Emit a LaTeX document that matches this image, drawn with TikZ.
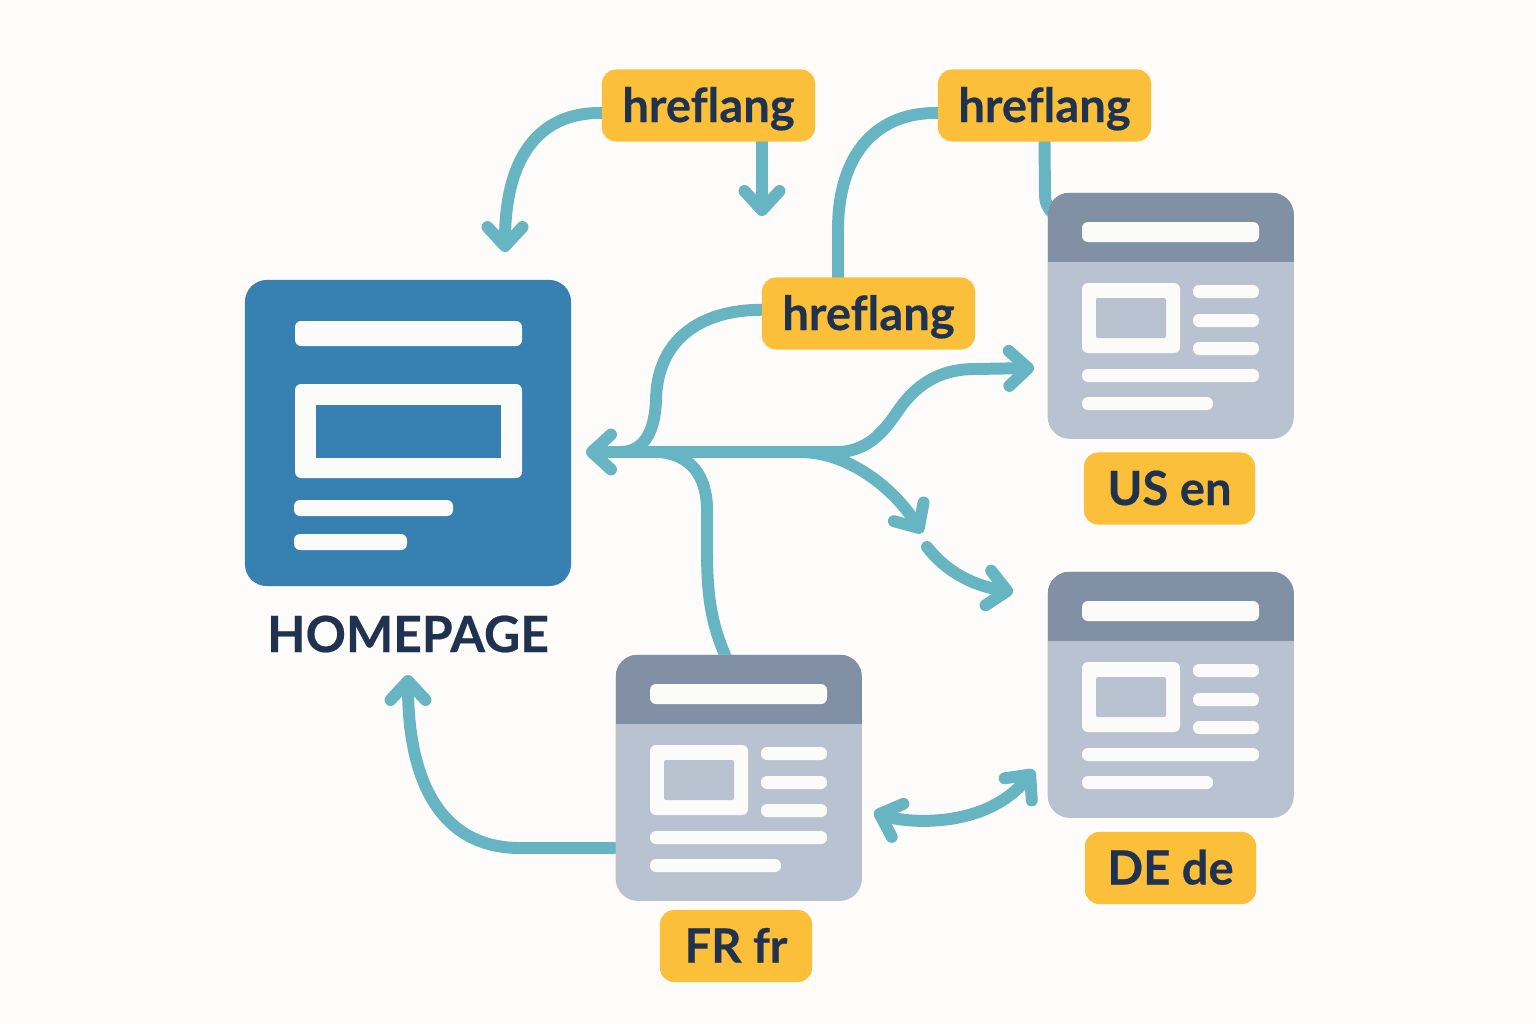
\documentclass[tikz,border=0pt]{standalone}
\usepackage{fontspec}
\setmainfont{Lato}[Ligatures=NoCommon, BoldFeatures={FakeBold=0.4}]
\usetikzlibrary{arrows.meta,backgrounds}
\definecolor{paperbg}{HTML}{FDFCFB}
\definecolor{tagyellow}{HTML}{FBBF3A}
\definecolor{inknavy}{HTML}{1F3350}
\definecolor{linkteal}{HTML}{67B5C2}
\definecolor{homeblue}{HTML}{3780B2}
\definecolor{pagehead}{HTML}{8290A5}
\definecolor{pagebody}{HTML}{B8C2D0}
\definecolor{barwhite}{HTML}{FBFBFA}
\tikzset{
	tagbox/.style={fill=tagyellow, rounded corners=0.14cm, text=inknavy, font=\fontsize{13.4}{16}\selectfont\bfseries, inner sep=0pt, minimum height=0.72cm, text height=4.3mm, text depth=1mm},
	pagebox/.style={fill=pagebody, rounded corners=0.22cm, anchor=north west, minimum width=2.46cm, minimum height=2.46cm, inner sep=0pt, path picture={\fill[pagehead, sharp corners] (path picture bounding box.north west) rectangle ++(246,69);}},
	bar/.style={fill=barwhite, rounded corners=0.06cm},
	link/.style={draw=linkteal, line width=3.4pt, line cap=round, line join=round},
	tip/.style={link, -{Straight Barb[length=1.9mm,width=3.5mm,round]}},
	twotip/.style={link, {Straight Barb[length=1.9mm,width=3.5mm,round]}-{Straight Barb[length=1.9mm,width=3.5mm,round]}}
}
\newcommand{\webpage}[2]{
	\node[pagebox] (#1) at (#2) {};
	\begin{scope}[shift={(#2)}]
		\fill[bar] (35,30) rectangle (212,50);
		\fill[bar] (35,91) rectangle (133,161);
		\fill[pagebody, rounded corners=0.02cm] (49,106) rectangle (119,146);
		\fill[bar] (146,93) rectangle (212,106);
		\fill[bar] (146,122) rectangle (212,135);
		\fill[bar] (146,150) rectangle (212,163);
		\fill[bar] (35,177) rectangle (212,190);
		\fill[bar] (35,205) rectangle (166,218);
	\end{scope}
}
\begin{document}
\begin{tikzpicture}[x=0.01cm, y=-0.01cm]
	\useasboundingbox (0,0) rectangle (1536,1024);
	\node[fill=homeblue, rounded corners=0.22cm, minimum width=3.26cm, minimum height=3.06cm, inner sep=0pt] (home) at (408,433) {};
	\fill[bar] (295,321) rectangle (522,346);
	\fill[bar] (295,384) rectangle (522,478);
	\fill[homeblue] (316,405) rectangle (501,458);
	\fill[bar] (294,500) rectangle (453,516);
	\fill[bar] (294,534) rectangle (407,550);
	\node[text=inknavy, font=\fontsize{14.2}{16}\selectfont\bfseries] (homelabel) at (408,634) {HOMEPAGE};
	\webpage{uspage}{1047,192}
	\webpage{depage}{1047,571}
	\webpage{frpage}{615,654}
	\node[tagbox, minimum width=2.13cm] (hrefa) at (708.5,105.5) {hreflang};
	\node[tagbox, minimum width=2.13cm] (hrefb) at (868.5,313.5) {hreflang};
	\node[tagbox, minimum width=2.13cm] (hrefc) at (1044.5,105.5) {hreflang};
	\node[tagbox, minimum width=1.71cm] (uslabel) at (1169.5,488.5) {US en};
	\node[tagbox, minimum width=1.71cm] (delabel) at (1170.5,868) {DE de};
	\node[tagbox, minimum width=1.52cm] (frlabel) at (736,946) {FR fr};
	\coordinate (hometop) at (505,252);
	\coordinate (hrefdown) at (762,216);
	\coordinate (homeright) at (586,452);
	\coordinate (homebelow) at (408,675);
	\coordinate (ustip) at (1034,368);
	\coordinate (midtip) at (922,533);
	\coordinate (midstart) at (927,547);
	\coordinate (detip) at (1013,592);
	\coordinate (fartip) at (874,812);
	\coordinate (detiplow) at (1034,770);
	\begin{scope}[on background layer]
		\fill[paperbg] (0,0) rectangle (1536,1024);
		\draw[tip] (hrefa.184) .. controls (545,112) and (505,150) .. (hometop);
		\draw[tip] (762,141) -- (hrefdown);
		\draw[link] (hrefc.184) .. controls (880,112) and (838,150) .. (838,230) -- (838,277);
		\draw[link] (hrefc.south) -- (1045,195) .. controls (1045,205) and (1050,212) .. (1060,220);
		\draw[link] (hrefb.178) .. controls (700,310) and (657,340) .. (656,400) .. controls (655,430) and (645,452) .. (620,452);
		\draw[tip] (845,452) -- (homeright);
		\draw[tip] (840,452) .. controls (870,450) and (885,430) .. (900,408) .. controls (920,380) and (945,369) .. (975,369) -- (ustip);
		\draw[tip] (800,452) .. controls (850,452) and (895,490) .. (midtip);
		\draw[tip] (midstart) .. controls (945,570) and (970,585) .. (detip);
		\draw[link] (727,660) .. controls (712,625) and (707,600) .. (707,550) -- (707,510) .. controls (707,475) and (690,455) .. (660,452);
		\draw[tip] (frpage.west |- 0,848) -- (520,848) .. controls (440,848) and (408,780) .. (homebelow);
		\draw[twotip] (fartip) .. controls (905,823) and (985,830) .. (detiplow);
	\end{scope}
\end{tikzpicture}
\end{document}
